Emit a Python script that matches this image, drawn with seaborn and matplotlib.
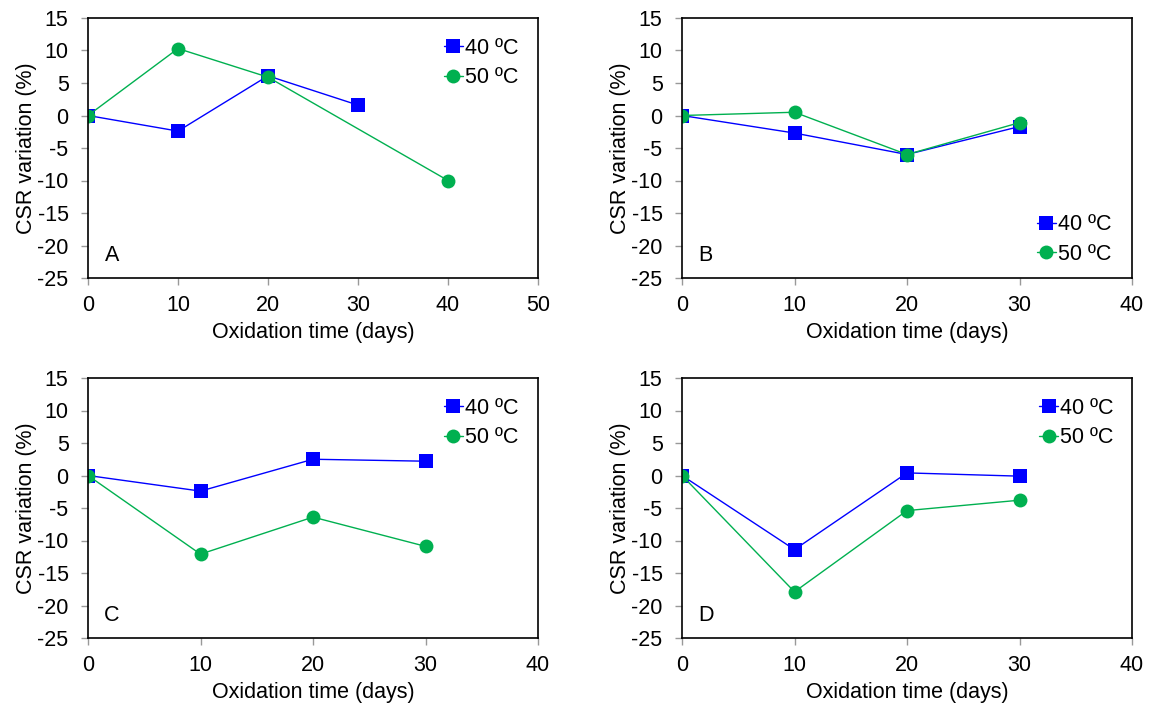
import matplotlib
matplotlib.use("Agg")
import matplotlib.pyplot as plt
import seaborn as sns
import pandas as pd

sns.set_style("ticks")
plt.rcParams['font.family'] = ['Liberation Sans', 'DejaVu Sans']
plt.rcParams['axes.unicode_minus'] = False
plt.rcParams['text.color'] = 'black'
plt.rcParams['axes.labelcolor'] = 'black'

# ---- data ----
panels = ["A", "B", "C", "D"]
series_names = ["40 ºC", "50 ºC"]

days_A_40 = [0, 10, 20, 30]
csr_A_40 = [0.0, -2.4, 6.1, 1.6]
days_A_50 = [0, 10, 20, 40]
csr_A_50 = [0.0, 10.3, 5.9, -10.0]

days_B = [0, 10, 20, 30]
csr_B_40 = [0.0, -2.7, -6.0, -1.7]
csr_B_50 = [0.0, 0.5, -6.0, -1.1]

days_C = [0, 10, 20, 30]
csr_C_40 = [0.0, -2.4, 2.5, 2.2]
csr_C_50 = [0.0, -12.1, -6.4, -10.9]

days_D = [0, 10, 20, 30]
csr_D_40 = [0.0, -11.4, 0.4, -0.1]
csr_D_50 = [0.0, -17.9, -5.4, -3.8]

x_max = {"A": 50, "B": 40, "C": 40, "D": 40}
y_ticks = [-25, -20, -15, -10, -5, 0, 5, 10, 15]

data = {
    "A": ((days_A_40, csr_A_40), (days_A_50, csr_A_50)),
    "B": ((days_B, csr_B_40), (days_B, csr_B_50)),
    "C": ((days_C, csr_C_40), (days_C, csr_C_50)),
    "D": ((days_D, csr_D_40), (days_D, csr_D_50)),
}

rows = []
for p in panels:
    for name, (xs, ys) in zip(series_names, data[p]):
        for x, y in zip(xs, ys):
            rows.append({"panel": p, "series": name, "days": x, "csr": y})
df = pd.DataFrame(rows)

colors = {"40 ºC": "#0000FF", "50 ºC": "#00B050"}
markers = {"40 ºC": "s", "50 ºC": "o"}

fig = plt.figure(figsize=(11.51, 7.09), dpi=100)
W, H = 1151, 709
boxes = {
    "A": (88, 18, 538, 278),
    "B": (682, 18, 1132, 278),
    "C": (88, 378, 538, 638),
    "D": (682, 378, 1132, 638),
}
legend_loc = {"A": ("upper right", (0.957, 0.925)),
              "B": ("lower right", (0.955, 0.05)),
              "C": ("upper right", (0.957, 0.925)),
              "D": ("upper right", (0.96, 0.925))}

fs = 15.5
for p in panels:
    l, t, r, b = boxes[p]
    ax = fig.add_axes([l / W, 1 - b / H, (r - l) / W, (b - t) / H])
    sub = df[df.panel == p]
    for name in series_names:
        s = sub[sub.series == name]
        sns.lineplot(data=s, x="days", y="csr", ax=ax, color=colors[name],
                     marker=markers[name], markersize=10, linewidth=1,
                     markeredgewidth=0, label=name, sort=False,
                     errorbar=None)
    ax.set_xlim(0, x_max[p])
    ax.set_ylim(-25, 15)
    ax.set_xticks(range(0, x_max[p] + 1, 10))
    ax.set_yticks(y_ticks)
    ax.tick_params(axis="both", labelsize=fs, length=5, width=1,
                   color="#999999", labelcolor="black", direction="out")
    ax.tick_params(axis="x", pad=7)
    ax.tick_params(axis="y", pad=9)
    ax.set_xlabel("Oxidation time (days)", fontsize=fs, labelpad=4.5)
    ax.set_ylabel("CSR variation (%)", fontsize=fs, labelpad=0)
    for sp in ax.spines.values():
        sp.set_color("black")
        sp.set_linewidth(1.2)
    ax.text(0.053, 0.088, p, transform=ax.transAxes, fontsize=fs,
            ha="center", va="center")
    loc, anchor = legend_loc[p]
    ax.legend(loc=loc, bbox_to_anchor=anchor, frameon=False, fontsize=fs,
              handlelength=0.9, handletextpad=0.1, borderaxespad=0,
              labelspacing=0.4, borderpad=0)

fig.savefig("out.png", dpi=100)
